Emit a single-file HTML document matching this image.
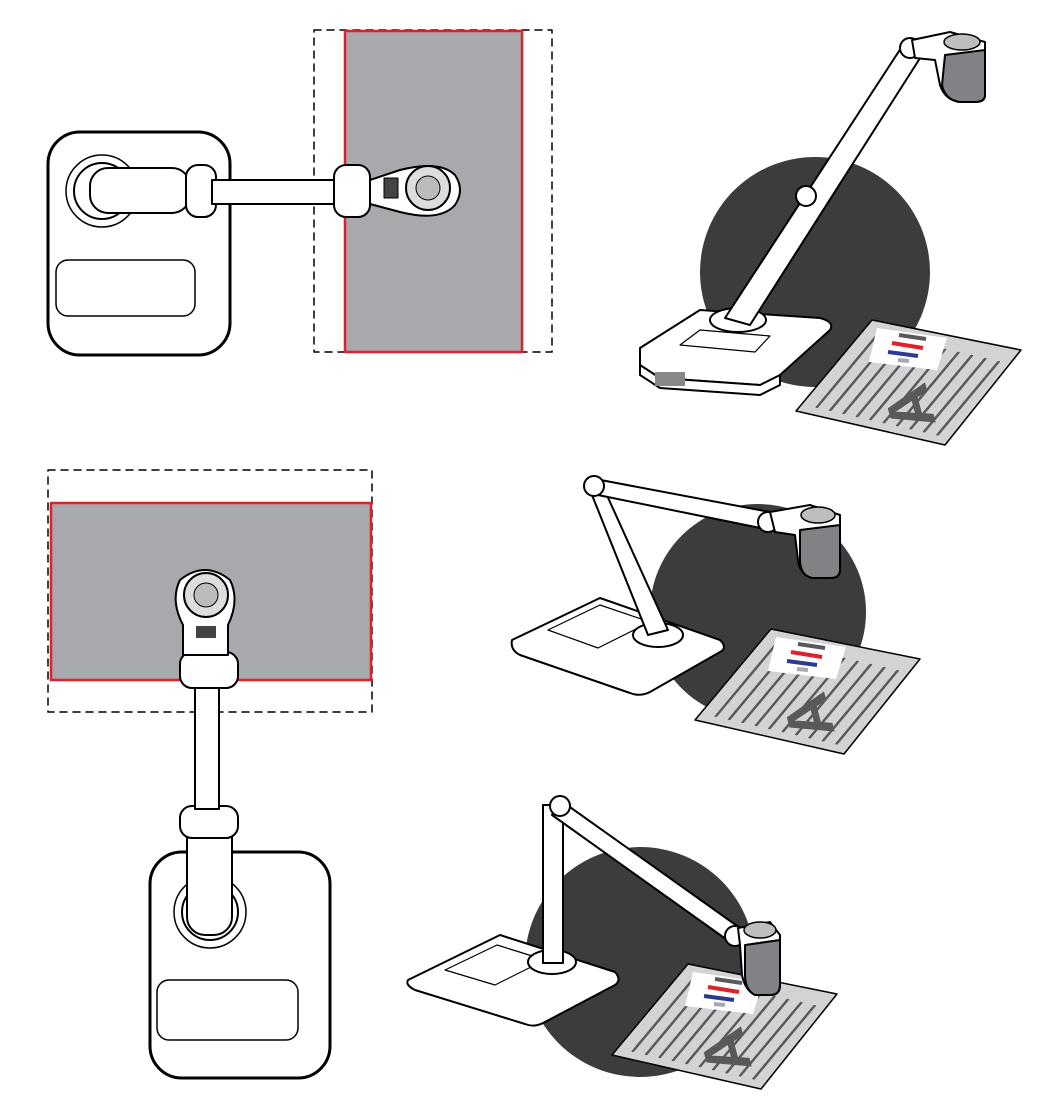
<!DOCTYPE html>
<html><head><meta charset="utf-8"><style>html,body{margin:0;padding:0;background:#fff}svg{display:block}</style></head>
<body>
<svg width="1042" height="1108" viewBox="0 0 1042 1108" xmlns="http://www.w3.org/2000/svg" stroke-linejoin="round" stroke-linecap="round">
<defs>
<g id="paper">
<path d="M0 0 L76 -91 L225 -61 L149 34Z" fill="#d1d3d4" stroke="#000" stroke-width="1.5"/>
<g transform="matrix(1.49,0.34,0.76,-0.91,0,0)" stroke="#58595b" stroke-width="1.8">
<line x1="10" y1="8" x2="10" y2="88"/><line x1="19" y1="8" x2="19" y2="88"/><line x1="28" y1="8" x2="28" y2="88"/><line x1="37" y1="8" x2="37" y2="88"/><line x1="46" y1="8" x2="46" y2="88"/><line x1="55" y1="8" x2="55" y2="88"/><line x1="64" y1="8" x2="64" y2="88"/><line x1="73" y1="8" x2="73" y2="88"/><line x1="82" y1="8" x2="82" y2="88"/><line x1="91" y1="8" x2="91" y2="88"/>
</g>
<path d="M81 -83 L151 -73 L141 -41 L73 -49Z" fill="#fff"/>
<line x1="103" y1="-76" x2="130" y2="-72" stroke="#58595b" stroke-width="4" stroke-linecap="butt"/>
<line x1="96" y1="-68" x2="127" y2="-63" stroke="#e0202a" stroke-width="4" stroke-linecap="butt"/>
<line x1="92" y1="-59" x2="122" y2="-55" stroke="#2b3990" stroke-width="4" stroke-linecap="butt"/>
<line x1="102" y1="-51" x2="113" y2="-50" stroke="#a7a9ac" stroke-width="4" stroke-linecap="butt"/>
<text x="117" y="14" text-anchor="middle" font-family="Liberation Sans,sans-serif" font-size="62" font-weight="bold" fill="#58595b" transform="rotate(-105 117 -4)">A</text>
</g>
</defs>
<!-- TOP LEFT -->
<rect x="314" y="30" width="238" height="322" fill="none" stroke="#000" stroke-width="1.5" stroke-dasharray="7,6"/>
<rect x="345" y="31" width="177" height="321" fill="#a7a9ac" stroke="#e0202a" stroke-width="2.5"/>
<rect x="48" y="132" width="182" height="223" rx="32" fill="#fff" stroke="#000" stroke-width="3"/>
<rect x="56" y="260" width="139" height="56" rx="12" fill="#fff" stroke="#000" stroke-width="1.5"/>
<circle cx="102" cy="191" r="36" fill="#fff" stroke="#000" stroke-width="1.5"/>
<circle cx="102" cy="191" r="28" fill="#fff" stroke="#000" stroke-width="2"/>
<rect x="90" y="168" width="100" height="45" rx="18" fill="#fff" stroke="#000" stroke-width="2"/>
<rect x="186" y="165" width="30" height="52" rx="12" fill="#fff" stroke="#000" stroke-width="2"/>
<rect x="212" y="180" width="125" height="24" fill="#fff" stroke="#000" stroke-width="2"/>
<rect x="334" y="165" width="36" height="52" rx="12" fill="#fff" stroke="#000" stroke-width="2"/>
<path d="M370 180 L400 170 Q440 160 455 175 Q465 190 455 205 Q440 222 400 212 L370 204Z" fill="#fff" stroke="#000" stroke-width="2"/>
<circle cx="428" cy="188" r="22" fill="#ddd" stroke="#000" stroke-width="2"/>
<circle cx="428" cy="188" r="12" fill="#bbb" stroke="#000" stroke-width="1"/>
<rect x="384" y="178" width="14" height="20" fill="#444" stroke="#000"/>
<!-- TOP RIGHT -->
<circle cx="815" cy="272" r="115" fill="#3c3c3e"/>
<use href="#paper" transform="translate(796,411)"/>
<path d="M640 348 L700 310 L820 318 Q835 322 830 330 L780 375 Q770 385 760 385 L660 378 Q640 375 640 365Z" fill="#fff" stroke="#000" stroke-width="2"/>
<path d="M640 365 L660 378 L760 385 L780 375 L780 385 L760 395 L660 388 L640 375Z" fill="#fff" stroke="#000" stroke-width="2"/>
<rect x="655" y="372" width="30" height="14" fill="#888"/>
<path d="M680 345 L700 330 L770 336 L755 352Z" fill="#fff" stroke="#000" stroke-width="1.2"/>
<ellipse cx="738" cy="320" rx="28" ry="12" fill="#fff" stroke="#000" stroke-width="2"/>
<path d="M725 318 L903 45 L922 55 L750 325Z" fill="#fff" stroke="#000" stroke-width="2"/>
<circle cx="806" cy="196" r="10" fill="#fff" stroke="#000" stroke-width="2"/>
<circle cx="910" cy="48" r="10" fill="#fff" stroke="#000" stroke-width="2"/>
<path d="M912 40 L950 32 L985 42 L985 95 Q985 102 975 102 L960 102 Q945 100 940 85 L935 60 L915 58Z" fill="#fff" stroke="#000" stroke-width="2"/>
<path d="M945 55 L985 50 L985 95 Q985 102 975 102 L960 102 Q945 100 942 85Z" fill="#808285" stroke="#000" stroke-width="2"/>
<ellipse cx="962" cy="42" rx="18" ry="8" fill="#bcbec0" stroke="#000" stroke-width="1.5"/>
<!-- BOTTOM LEFT -->
<rect x="48" y="470" width="324" height="242" fill="none" stroke="#000" stroke-width="1.5" stroke-dasharray="7,6"/>
<rect x="51" y="503" width="320" height="177" fill="#a7a9ac" stroke="#e0202a" stroke-width="2.5"/>
<rect x="150" y="852" width="180" height="226" rx="32" fill="#fff" stroke="#000" stroke-width="3"/>
<rect x="157" y="980" width="141" height="60" rx="12" fill="#fff" stroke="#000" stroke-width="1.5"/>
<circle cx="210" cy="912" r="36" fill="#fff" stroke="#000" stroke-width="1.5"/>
<circle cx="210" cy="912" r="28" fill="#fff" stroke="#000" stroke-width="2"/>
<rect x="187" y="810" width="45" height="125" rx="18" fill="#fff" stroke="#000" stroke-width="2"/>
<rect x="180" y="806" width="58" height="32" rx="12" fill="#fff" stroke="#000" stroke-width="2"/>
<rect x="195" y="657" width="24" height="152" fill="#fff" stroke="#000" stroke-width="2"/>
<rect x="180" y="652" width="58" height="36" rx="12" fill="#fff" stroke="#000" stroke-width="2"/>
<path d="M183 655 L183 625 Q170 600 180 580 Q205 560 230 580 Q240 600 228 625 L228 655Z" fill="#fff" stroke="#000" stroke-width="2"/>
<circle cx="206" cy="595" r="22" fill="#ddd" stroke="#000" stroke-width="2"/>
<circle cx="206" cy="595" r="12" fill="#bbb" stroke="#000" stroke-width="1"/>
<rect x="196" y="626" width="20" height="12" fill="#444"/>
<!-- MIDDLE RIGHT -->
<circle cx="758" cy="612" r="108" fill="#3c3c3e"/>
<use href="#paper" transform="translate(695,720)"/>
<path d="M512 640 L600 598 L720 640 Q728 648 720 652 L650 692 Q640 697 630 693 L520 655 Q510 650 512 640Z" fill="#fff" stroke="#000" stroke-width="2"/>
<path d="M548 630 L600 605 L650 622 L598 648Z" fill="#fff" stroke="#000" stroke-width="1.2"/>
<ellipse cx="658" cy="635" rx="25" ry="12" fill="#fff" stroke="#000" stroke-width="2"/>
<path d="M588 485 L600 480 L668 630 L648 635Z" fill="#fff" stroke="#000" stroke-width="2"/>
<path d="M590 478 L770 512 L770 530 L598 495Z" fill="#fff" stroke="#000" stroke-width="2"/>
<circle cx="594" cy="486" r="10" fill="#fff" stroke="#000" stroke-width="2"/>
<circle cx="768" cy="522" r="10" fill="#fff" stroke="#000" stroke-width="2"/>
<path d="M770 512 L810 505 L840 515 L840 570 Q840 578 830 578 L812 578 Q800 575 798 560 L795 535 L775 532Z" fill="#fff" stroke="#000" stroke-width="2"/>
<path d="M800 530 L840 525 L840 570 Q840 578 830 578 L812 578 Q800 575 800 560Z" fill="#808285" stroke="#000" stroke-width="2"/>
<ellipse cx="818" cy="515" rx="17" ry="8" fill="#bcbec0" stroke="#000" stroke-width="1.5"/>
<!-- BOTTOM RIGHT -->
<circle cx="640" cy="962" r="115" fill="#3c3c3e"/>
<path d="M408 980 L500 935 L615 972 Q622 980 615 985 L545 1022 Q535 1028 525 1024 L415 990 Q405 985 408 980Z" fill="#fff" stroke="#000" stroke-width="2"/>
<path d="M445 970 L497 945 L545 960 L495 985Z" fill="#fff" stroke="#000" stroke-width="1.2"/>
<ellipse cx="552" cy="962" rx="24" ry="12" fill="#fff" stroke="#000" stroke-width="2"/>
<rect x="543" y="805" width="20" height="158" fill="#fff" stroke="#000" stroke-width="2"/>
<use href="#paper" transform="translate(612,1055)"/>
<path d="M560 800 L740 928 L730 942 L552 815Z" fill="#fff" stroke="#000" stroke-width="2"/>
<circle cx="560" cy="806" r="10" fill="#fff" stroke="#000" stroke-width="2"/>
<circle cx="735" cy="936" r="10" fill="#fff" stroke="#000" stroke-width="2"/>
<path d="M738 928 L770 922 L780 935 L780 985 Q780 995 770 995 L755 995 Q745 990 742 975 L740 945Z" fill="#fff" stroke="#000" stroke-width="2"/>
<path d="M745 945 L780 940 L780 985 Q780 995 770 995 L755 995 Q745 990 745 975Z" fill="#808285" stroke="#000" stroke-width="2"/>
<ellipse cx="760" cy="930" rx="16" ry="8" fill="#bcbec0" stroke="#000" stroke-width="1.5"/>
</svg>
</body></html>
